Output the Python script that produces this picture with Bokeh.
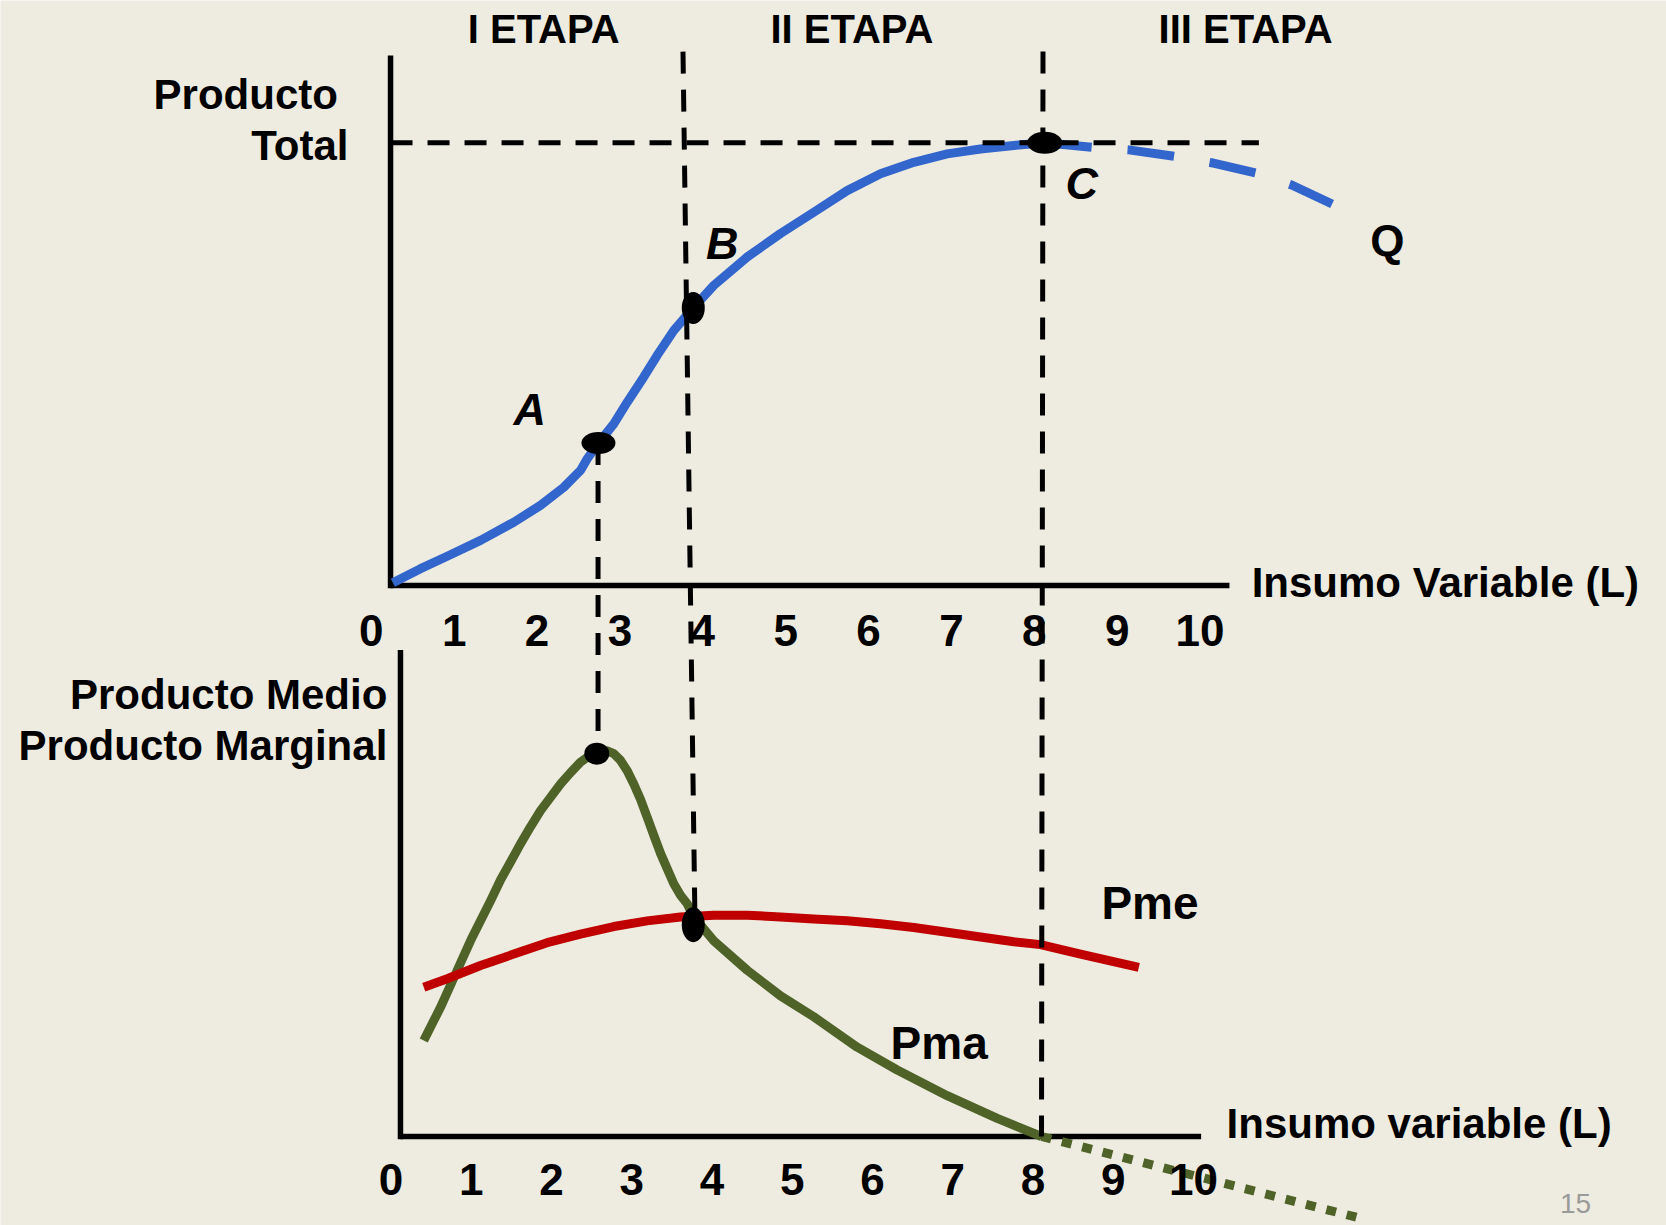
from bokeh.plotting import figure
from bokeh.models import Range1d
from bokeh.core.properties import value
from bokeh.embed import file_html
from bokeh.resources import INLINE

# ---------------------------------------------------------------------------
# Data: production stages (producto total, medio y marginal vs. insumo L)
# ---------------------------------------------------------------------------
# Producto total (solid part, up to the maximum C)
pt_L = [0.26, 0.594, 0.916, 1.318, 1.719, 2.041, 2.323, 2.524, 2.605, 2.738,
        2.926, 3.088, 3.288, 3.450, 3.650, 3.884, 4.133, 4.536, 4.938, 5.339,
        5.742, 6.144, 6.546, 6.949, 7.351, 7.753, 8.127]
pt_Q = [0.6, 3.8, 6.6, 10.2, 14.3, 18.1, 22.2, 26.0, 28.6, 32.1,
        36.5, 41.4, 47.1, 52.0, 57.6, 62.7, 67.8, 74.2, 79.5, 84.3,
        89.2, 93.0, 95.6, 97.5, 98.6, 99.4, 100.0]
# Producto total beyond C (decreasing, dashed)
pt_ext_L = [8.127, 8.699, 9.140, 9.704, 10.135, 10.697, 11.112, 11.635]
pt_ext_Q = [100.0, 99.0, 98.4, 96.9, 95.5, 93.1, 90.4, 85.8]

# Producto marginal (Pma)
pma_L = [0.633, 0.754, 0.835, 1.037, 1.197, 1.318, 1.438, 1.559, 1.680, 1.800,
         1.921, 2.042, 2.162, 2.283, 2.404, 2.524, 2.605, 2.717, 2.846, 2.926,
         3.006, 3.088, 3.167, 3.248, 3.329, 3.409, 3.490, 3.570, 3.650, 3.731,
         3.812, 3.884, 4.133, 4.536, 4.938, 5.339, 5.863, 6.346, 6.949, 7.553,
         8.087]
pma = [10.1, 12.2, 13.6, 17.5, 20.6, 22.7, 24.8, 27.0, 28.9, 30.8,
       32.6, 34.3, 35.7, 37.1, 38.3, 39.4, 39.9, 40.4, 40.6, 40.3,
       39.6, 38.5, 37.1, 35.5, 33.6, 31.7, 29.8, 28.2, 26.6, 25.4,
       24.5, 23.2, 20.6, 17.5, 14.8, 12.6, 9.4, 7.0, 4.3, 1.9,
       0.0]
# Pma below zero (dotted)
pma_ext_L = [8.087, 11.976]
pma_ext = [0.0, -8.7]

# Producto medio (Pme)
pme_L = [0.633, 0.916, 1.318, 1.719, 2.122, 2.524, 2.926, 3.329, 3.731, 4.133,
         4.536, 4.938, 5.339, 5.742, 6.144, 6.546, 6.949, 7.351, 7.753, 8.075,
         8.558, 9.261]
pme = [15.7, 16.6, 18.0, 19.2, 20.4, 21.3, 22.1, 22.7, 23.1, 23.3,
       23.3, 23.1, 22.9, 22.7, 22.4, 22.0, 21.5, 21.0, 20.5, 20.2,
       19.2, 17.8]

# Key points on the total product curve
pt_pts_name = ["A", "B", "C"]
pt_pts_L = [2.741, 3.885, 8.126]
pt_pts_Q = [32.2, 62.7, 100.0]
# Key points on the lower panel: max of Pma, and Pma = Pme
pm_pts_L = [2.721, 3.885]
pm_pts_V = [40.3, 22.3]

# Stage boundaries (L where each guide sits)
guide_A_L = 2.736
guide_B_L = [3.761, 3.906]
guide_C_L = [8.105, 8.087]

ticks = list(range(0, 11))
tick_labels = [str(t) for t in ticks]
stages = ["I ETAPA", "II ETAPA", "III ETAPA"]
stage_L = [2.08, 5.80, 10.55]

# ---------------------------------------------------------------------------
# Canvas geometry (pixels) and scales
# ---------------------------------------------------------------------------
W, H = 1666, 1225
X0, XS = 370.8, 82.875        # L = 0 position, px per unit of L (top panel)
XB0, XBS = 390.5, 80.25       # tick layout of the lower axis
Q0, QS = 585.0, 4.427         # Q = 0 baseline, px per unit of Q
P0, PS = 1136.0, 9.5          # PM = 0 baseline, px per unit of PM

BG = "#EEECE1"
BLUE = "#3366CC"
RED = "#C00000"
GREEN = "#4F6228"
FONT = value("Liberation Sans")
LIFT = -15                    # baseline correction for the large labels


def pm_to_q(v):
    """Express a lower-panel value on the upper panel's Q scale."""
    y = P0 - v * PS
    return (Q0 - y) / QS


p = figure(width=W, height=H, output_backend="svg", toolbar_location=None,
           x_range=Range1d(-X0 / XS, (W - X0) / XS),
           y_range=Range1d(-(H - Q0) / QS, Q0 / QS),
           x_axis_location=None, y_axis_location=None,
           min_border=0, title=None)
p.extra_y_ranges = {"pm": Range1d(-(H - P0) / PS, P0 / PS)}
p.extra_x_ranges = {"xb": Range1d(-XB0 / XBS, (W - XB0) / XBS)}
p.background_fill_color = BG
p.border_fill_color = BG
p.outline_line_color = None
p.grid.grid_line_color = None

AX_W = 5.5
# upper panel axes
p.line([0.232, 0.232], [119.7, -0.6], line_color="black", line_width=AX_W)
p.line([0.232, 10.355], [0.0, 0.0], line_color="black", line_width=AX_W)
# lower panel axes
p.line([0.352, 0.352], [51.2, -0.3], line_color="black", line_width=AX_W,
       y_range_name="pm")
p.line([0.352, 10.013], [0.0, 0.0], line_color="black", line_width=AX_W,
       y_range_name="pm")

# curves
p.line(pt_L, pt_Q, line_color=BLUE, line_width=9, line_join="round")
p.line(pt_ext_L, pt_ext_Q, line_color=BLUE, line_width=9, line_dash="47 36")
p.line(pma_L, pma, line_color=GREEN, line_width=9, line_join="round",
       y_range_name="pm")
p.line(pma_ext_L, pma_ext, line_color=GREEN, line_width=9, line_dash="10 11",
       y_range_name="pm")
p.line(pme_L, pme, line_color=RED, line_width=9, line_join="round",
       y_range_name="pm")

# dashed guides
GD = dict(line_color="black", line_width=5, line_dash="22 16")
p.line([0.232, 10.71], [pt_pts_Q[2], pt_pts_Q[2]], line_color="black",
       line_width=5, line_dash="22 15")
p.line([guide_A_L, guide_A_L], [pt_pts_Q[0], pm_to_q(pm_pts_V[0])], **GD)
p.line(guide_B_L, [120.6, pm_to_q(pm_pts_V[1])], **GD)
p.line(guide_C_L, [120.6, pm_to_q(0.0)], **GD)

# points
p.ellipse(pt_pts_L, pt_pts_Q, width=[34, 23, 35], height=[22, 32, 22],
          width_units="screen", height_units="screen",
          fill_color="black", line_color=None)
p.ellipse(pm_pts_L, pm_pts_V, width=[25, 23], height=[22, 35],
          width_units="screen", height_units="screen",
          fill_color="black", line_color=None, y_range_name="pm")

# texts
TB = dict(text_font=FONT, text_font_style="bold", text_color="black",
          text_baseline="alphabetic", y_offset=LIFT)
p.text(stage_L, [122.3] * 3, stages, text_align="center",
       text_font_size="40px", **TB)
p.text([-0.403], [107.6], ["Producto"], text_align="right",
       text_font_size="42px", **TB)
p.text([-0.275], [96.0], ["Total"], text_align="right",
       text_font_size="42px", **TB)
p.text([10.623], [-2.7], ["Insumo Variable (L)"], text_align="left",
       text_font_size="42px", **TB)
p.text(ticks, [-13.5] * len(ticks), tick_labels, text_align="center",
       text_font_size="44px", **TB)

p.text([1.911, 4.234, 8.572], [36.4, 73.8, 87.5], pt_pts_name,
       text_align="center", text_font_size="45px", text_font=FONT,
       text_font_style="bold italic", text_color="black",
       text_baseline="alphabetic", y_offset=LIFT)
p.text([12.26], [74.5], ["Q"], text_align="center", text_font_size="44px", **TB)

p.text([0.193, 0.193], [44.9, 39.6], ["Producto Medio", "Producto Marginal"],
       text_align="right", text_font_size="42px", y_range_name="pm", **TB)
p.text([10.32], [-0.25], ["Insumo variable (L)"], text_align="left",
       text_font_size="42px", y_range_name="pm", **TB)
p.text(ticks, [-6.1] * len(ticks), tick_labels, text_align="center",
       text_font_size="44px", x_range_name="xb", y_range_name="pm", **TB)
p.text([9.396], [23.0], ["Pme"], text_align="center", text_font_size="46px",
       y_range_name="pm", **TB)
p.text([6.852], [8.3], ["Pma"], text_align="center", text_font_size="46px",
       y_range_name="pm", **TB)
p.text([14.53], [-7.9], ["15"], text_align="center", text_font_size="28px",
       text_font=FONT, text_color="#9A9A9A", text_baseline="alphabetic",
       y_offset=-8, y_range_name="pm")

open("out.html", "w").write(file_html(p, INLINE))
